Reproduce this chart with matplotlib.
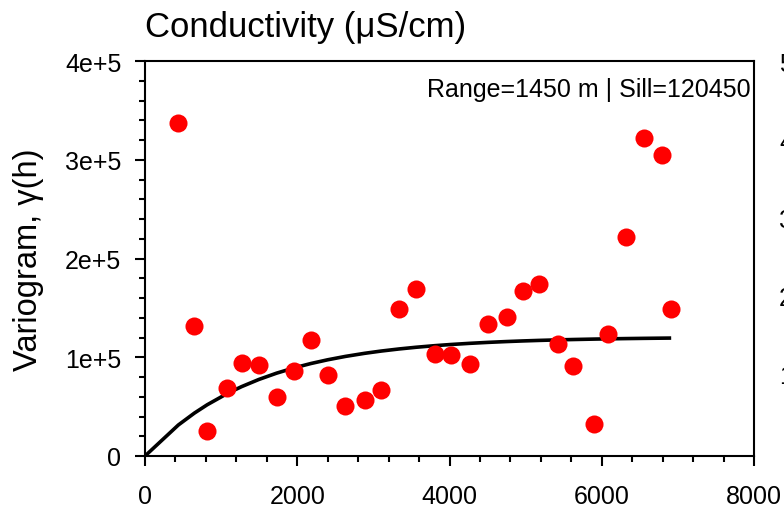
import numpy as np
import matplotlib
matplotlib.use("Agg")
import matplotlib.pyplot as plt
from matplotlib.ticker import MultipleLocator, FixedLocator

plt.rcParams['font.family'] = ['Liberation Sans', 'DejaVu Sans']

# Experimental variogram (lag distance in m, semivariance)
lag_m = [438, 649, 816, 1079, 1268, 1496, 1728, 1961, 2180, 2399, 2632, 2886,
         3105, 3338, 3561, 3807, 4018, 4263, 4507, 4750, 4961, 5171, 5428,
         5618, 5903, 6086, 6316, 6549, 6796, 6912]
gamma = [337200, 131950, 25000, 68560, 93870, 92500, 59400, 86080, 117800,
         82360, 50630, 56370, 67170, 148860, 168780, 103290, 102280, 93160,
         133330, 141100, 167400, 174180, 113420, 91140, 32740, 123880, 221430,
         321690, 304810, 148520]

# Fitted exponential model parameters
model_range = 1450
model_sill = 120450

x_ticks = [0, 2000, 4000, 6000, 8000]
x_ticklabels = ['0', '2000', '4000', '6000', '8000']
y_ticks = [0, 100000, 200000, 300000, 400000]
y_ticklabels = ['0', '1e+5', '2e+5', '3e+5', '4e+5']
edge_labels = ['5', '4', '3', '2', '1']

h_model = np.array([0] + lag_m, dtype=float)
g_model = model_sill * (1 - np.exp(-h_model / model_range))

W, H = 784, 510
fig = plt.figure(figsize=(W / 100, H / 100), dpi=100)
ax = fig.add_axes([145 / W, 1 - 457 / H, (754 - 145) / W, (457 - 62) / H])

ax.plot(h_model, g_model, color='black', lw=2.6, zorder=2, solid_capstyle='butt')
ax.plot(lag_m, gamma, 'o', color='#ff0000', markersize=13, markeredgewidth=0, zorder=3)

ax.set_xlim(0, 8000)
ax.set_ylim(0, 400000)
ax.xaxis.set_major_locator(FixedLocator(x_ticks))
ax.set_xticklabels(x_ticklabels)
ax.yaxis.set_major_locator(FixedLocator(y_ticks))
ax.set_yticklabels(y_ticklabels)
ax.xaxis.set_minor_locator(MultipleLocator(400))
ax.yaxis.set_minor_locator(MultipleLocator(20000))

for s in ax.spines.values():
    s.set_linewidth(1.5)
ax.tick_params(which='major', direction='out', length=7, width=1.5, labelsize=18)
ax.tick_params(axis='x', which='major', pad=13)
ax.tick_params(axis='y', which='major', pad=10)
ax.tick_params(which='minor', direction='out', length=4, width=1.5)

ax.set_ylabel('Variogram, γ(h)', fontsize=23.5, labelpad=15)
ax.set_title('Conductivity (μS/cm)', fontsize=25, loc='left', pad=18)

ax.text(0.995, 0.96, f'Range={model_range} m | Sill={model_sill}', transform=ax.transAxes,
        ha='right', va='top', fontsize=18)

for i, lab in enumerate(edge_labels):
    fig.text(779 / W, 1 - (65 + 78 * i) / H, lab, ha='left', va='center', fontsize=18)

fig.savefig('out.png', dpi=100)
